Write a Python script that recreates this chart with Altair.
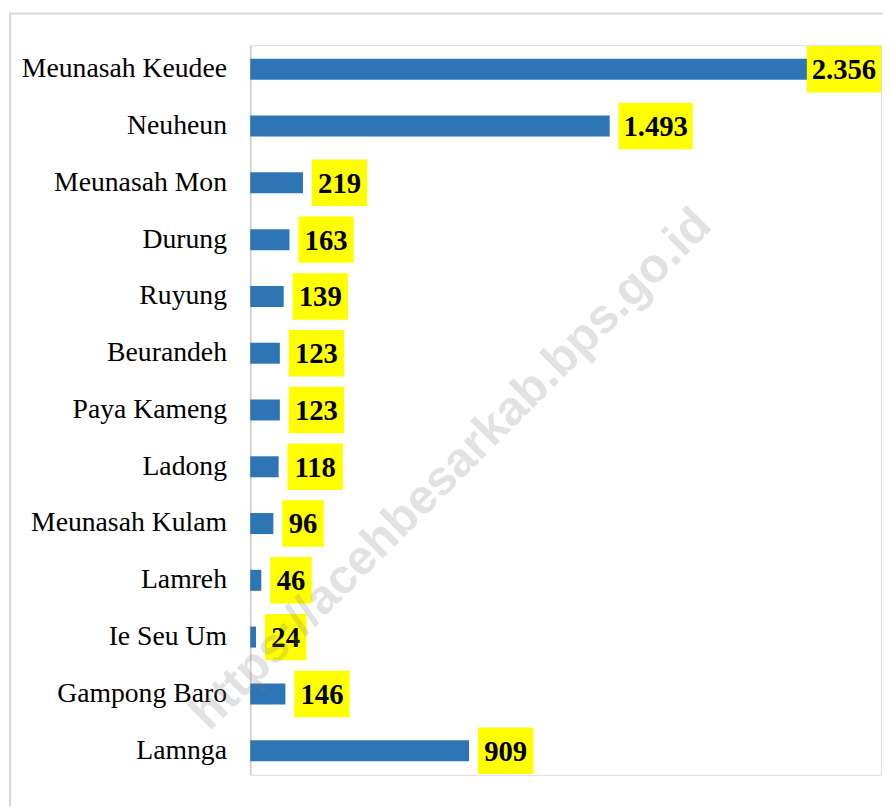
import altair as alt
import pandas as pd

# ---- data ----
villages = ["Meunasah Keudee", "Neuheun", "Meunasah Mon", "Durung", "Ruyung",
            "Beurandeh", "Paya Kameng", "Ladong", "Meunasah Kulam", "Lamreh",
            "Ie Seu Um", "Gampong Baro", "Lamnga"]
values = [2356, 1493, 219, 163, 139, 123, 123, 118, 96, 46, 24, 146, 909]
labels = ["2.356", "1.493", "219", "163", "139", "123", "123", "118", "96",
          "46", "24", "146", "909"]
watermark = "https://acehbesarkab.bps.go.id"

df = pd.DataFrame({"village": villages, "value": values, "label": labels})

W, H = 638, 738
XMAX = 2620
K = W / XMAX  # px per unit

xscale = alt.Scale(domain=[0, XMAX], nice=False, zero=True)
yenc = alt.Y("village:N", sort=villages,
             scale=alt.Scale(paddingInner=0.63, paddingOuter=0.24),
             axis=alt.Axis(title=None, ticks=False, labelFont="Liberation Serif",
                           labelFontSize=28, labelColor="black", labelPadding=24,
                           domainColor="#d4d4d4", domainWidth=2, grid=False,
                           labelLimit=400))

base = alt.Chart(df)

bars = base.mark_bar(color="#2E75B6").encode(
    x=alt.X("value:Q", scale=xscale, axis=None),
    y=yenc,
)

calc = base.transform_calculate(
    nd="length(replace(datum.label, '.', ''))",
).transform_calculate(
    w="14 + 14*datum.nd + 5*(length(datum.label) - datum.nd)",
).transform_calculate(
    s=f"min(datum.value*{K} + 9, {W} - datum.w)",
).transform_calculate(
    x0=f"datum.s / {K}",
    x1=f"(datum.s + datum.w) / {K}",
    xc=f"(datum.s + datum.w/2) / {K}",
)

boxes = calc.mark_bar(color="#FFFF00", size=47).encode(
    x=alt.X("x0:Q", scale=xscale, axis=None),
    x2="x1:Q",
    y=alt.Y("village:N", sort=villages),
)

texts = calc.mark_text(font="Liberation Serif", fontWeight="bold", fontSize=29,
                       color="black", align="center", baseline="middle", dy=1).encode(
    x=alt.X("xc:Q", scale=xscale, axis=None),
    y=alt.Y("village:N", sort=villages),
    text="label:N",
)

deco = alt.Chart(pd.DataFrame({"t": [watermark]}))

left_border = deco.mark_rule(color="#d9d9d9", strokeWidth=2).encode(
    x=alt.value(-243), y=alt.value(-33), y2=alt.value(770))
top_border = deco.mark_rule(color="#d9d9d9", strokeWidth=2).encode(
    x=alt.value(-244), x2=alt.value(640), y=alt.value(-32))

wm = deco.mark_text(font="Liberation Sans", fontWeight="bold", fontSize=49,
                    angle=315, color="#808080", opacity=0.22,
                    align="center", baseline="middle").encode(
    x=alt.value(203), y=alt.value(429), text="t:N")

chart = alt.layer(left_border, top_border, bars, boxes, texts, wm).properties(
    width=W, height=H,
    autosize=alt.AutoSizeParams(type="none"),
    padding={"left": 245, "top": 33, "right": 2, "bottom": 30},
).configure_view(stroke=None).configure(background="white")

chart.save("out.html", embed_options={"renderer": "svg", "actions": False})
